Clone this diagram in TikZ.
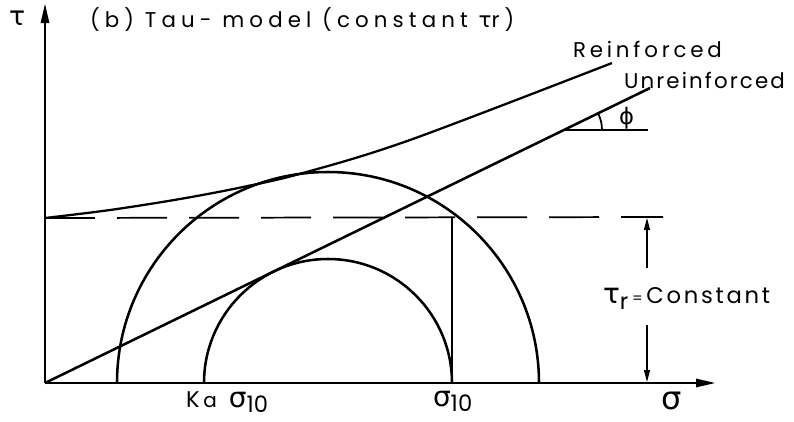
\documentclass[tikz,border=0pt]{standalone}
\usepackage{fontspec}
\setmainfont{Poppins}
\newfontfamily\gr{DejaVu Sans}
\usetikzlibrary{arrows.meta}
\begin{document}
\begin{tikzpicture}[x=0.75pt,y=-0.75pt,
  thick line/.style={line width=2.1pt},
  curve line/.style={line width=1.9pt},
  thin line/.style={line width=0.9pt},
  lbl/.style={anchor=base west,inner sep=0pt,outer sep=0pt},
  axtip/.style={-{Triangle[length=15pt,width=6pt]}},
  dimtip/.style={-{Triangle[length=9pt,width=4.5pt]}}]
\useasboundingbox (0,0) rectangle (794,422);
% key points
\coordinate (O) at (45,383);
\coordinate (C) at (328,383);
\coordinate (ytop) at (45,3);
\coordinate (xend) at (716,383);
% axes
\draw[thick line,axtip] (O) -- (ytop);
\draw[thick line,axtip] (O) -- (xend);
% circles (upper halves)
\draw[curve line] (117,383) arc[start angle=180,end angle=360,radius=211];
\draw[curve line] (204,383) arc[start angle=180,end angle=360,radius=124];
% unreinforced envelope
\coordinate (U) at (650,88);
\draw[curve line] (O) -- (U);
% reinforced envelope
\coordinate (R0) at (45,218);
\coordinate (R1) at (612,63);
\draw[line width=1.7pt] plot[smooth,tension=0.55] coordinates {(R0) (110,210) (180,199) (243,187) (303,173) (410,140) (R1)};
% dashed tau_r line
\coordinate (D1) at (663,217);
\draw[line width=1.3pt,dash pattern=on 37.5pt off 16.5pt] (R0) -- (D1);
% vertical at sigma10
\coordinate (V0) at (452,383);
\coordinate (V1) at (452,217);
\draw[thin line] (V0) -- (V1);
% dimension arrows
\coordinate (A0) at (647,268);
\coordinate (A1) at (647,218);
\coordinate (B0) at (647,325);
\coordinate (B1) at (647,382);
\draw[thin line,dimtip] (A0) -- (A1);
\draw[thin line,dimtip] (B0) -- (B1);
% phi angle
\coordinate (P) at (564,130);
\coordinate (P1) at (648,130);
\draw[line width=1.3pt] (P) -- (P1);
\draw[line width=1.3pt] (P) ++(38,0) arc[start angle=0,end angle=-26,radius=38];
% labels
\node[lbl,font=\gr\fontsize{20}{20}\selectfont] (tau) at (9,25) {τ};
\node[lbl,font=\fontsize{16}{16}\selectfont\addfontfeature{LetterSpace=24}] (title) at (90,27) {(b) Tau- model (constant {\gr τ}r)};
\node[lbl,font=\fontsize{16}{16}\selectfont\addfontfeature{LetterSpace=18}] (reinf) at (573,57) {Reinforced};
\node[lbl,font=\fontsize{16}{16}\selectfont\addfontfeature{LetterSpace=10}] (unreinf) at (624,88) {Unreinforced};
\node[lbl,font=\gr\fontsize{17}{17}\selectfont] (phi) at (619,124) {ϕ};
\node[lbl,font=\fontsize{17}{17}\selectfont] (taur) at (603,303) {{\gr\fontsize{21}{21}\selectfont τ}\raisebox{-5pt}{r}\,{\fontsize{11}{11}\selectfont =}\,{\addfontfeature{LetterSpace=12}Constant}};
\node[lbl,font=\fontsize{17}{17}\selectfont] (ka) at (186,407) {K\,{\fontsize{15}{15}\selectfont a}\ \ {\gr\fontsize{21}{21}\selectfont σ}\raisebox{-4pt}{10}};
\node[lbl,font=\fontsize{17}{17}\selectfont] (s10) at (433,406) {{\gr\fontsize{21}{21}\selectfont σ}\raisebox{-4pt}{10}};
\node[lbl,font=\gr\fontsize{24}{24}\selectfont] (sig) at (661,409) {σ};
\end{tikzpicture}
\end{document}
